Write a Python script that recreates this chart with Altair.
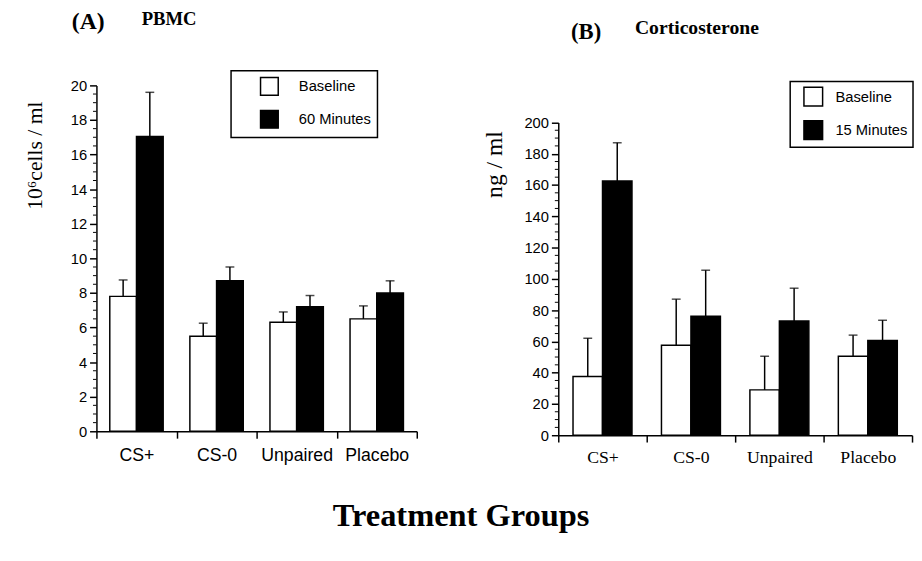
import altair as alt
import pandas as pd

SANS = "Liberation Sans"
SERIF = "Liberation Serif"

groups = ["CS+", "CS-0", "Unpaired", "Placebo"]

# Panel A: PBMC (10^6 cells / ml)
pbmc_series = ["Baseline", "60 Minutes"]
pbmc_baseline = [7.8, 5.5, 6.3, 6.5]
pbmc_baseline_top = [8.75, 6.25, 6.9, 7.25]
pbmc_60min = [17.05, 8.7, 7.2, 8.0]
pbmc_60min_top = [19.6, 9.5, 7.85, 8.7]
pbmc_ticks = [0, 2, 4, 6, 8, 10, 12, 14, 16, 18, 20]
pbmc_minor = [0.5, 1, 1.5, 2.5, 3, 3.5, 4.5, 5, 5.5, 6.5, 7, 7.5, 8.5, 9, 9.5,
              10.5, 11, 11.5, 12.5, 13, 13.5, 14.5, 15, 15.5, 16.5, 17, 17.5,
              18.5, 19, 19.5]

# Panel B: Corticosterone (ng / ml)
cort_series = ["Baseline", "15 Minutes"]
cort_baseline = [37.5, 57.5, 29.0, 50.5]
cort_baseline_top = [62.0, 87.0, 50.5, 64.0]
cort_15min = [162.5, 76.0, 73.0, 60.5]
cort_15min_top = [187.0, 105.5, 94.0, 73.5]
cort_ticks = [0, 20, 40, 60, 80, 100, 120, 140, 160, 180, 200]
cort_minor = [5, 10, 15, 25, 30, 35, 45, 50, 55, 65, 70, 75, 85, 90, 95,
              105, 110, 115, 125, 130, 135, 145, 150, 155, 165, 170, 175,
              185, 190, 195]


def panel(series, v0, t0, v1, t1, width, height, y_domain, y_range, ticks,
          minor, y_title, title_size, title_y, title_pad, x_font, x_pad,
          heads, legend):
    df = pd.DataFrame({
        "group": groups * 2,
        "series": [series[0]] * 4 + [series[1]] * 4,
        "value": v0 + v1,
        "top": t0 + t1,
    })
    yscale = alt.Scale(domain=y_domain, range=y_range, nice=False)
    yaxis = alt.Axis(values=ticks, title=y_title, titleFont=SERIF,
                     titleFontSize=title_size, titleFontWeight="normal",
                     titleColor="black", titleY=title_y,
                     titlePadding=title_pad, labelFont=SANS,
                     labelFontSize=15, labelColor="black", labelPadding=3,
                     tickSize=7, tickWidth=1.5, tickColor="black",
                     domainColor="black", domainWidth=1.5, grid=False)
    xaxis = alt.Axis(title=None, labelAngle=0, labelFont=x_font,
                     labelFontSize=18, labelColor="black",
                     labelPadding=x_pad, tickBand="extent", tickSize=7,
                     tickWidth=1.5, tickColor="black", domainColor="black",
                     domainWidth=1.5, grid=False)
    x = alt.X("group:N", sort=groups,
              scale=alt.Scale(paddingInner=0, paddingOuter=0), axis=xaxis)
    xo = alt.XOffset("series:N", sort=series,
                     scale=alt.Scale(paddingInner=0, paddingOuter=0.5))
    base = alt.Chart(df)
    bars = base.mark_bar(stroke="black", strokeWidth=1.5).encode(
        x=x, xOffset=xo,
        y=alt.Y("value:Q", scale=yscale, axis=yaxis, title=y_title),
        fill=alt.Fill("series:N", sort=series,
                      scale=alt.Scale(domain=series, range=["white", "black"]),
                      legend=alt.Legend(**legend)),
    )
    err = base.mark_rule(color="black", strokeWidth=1.5).encode(
        x=x, xOffset=xo,
        y=alt.Y("value:Q", scale=yscale, axis=yaxis, title=y_title),
        y2="top:Q",
    )
    caps = base.mark_tick(color="black", size=9, thickness=1.5).encode(
        x=x, xOffset=xo,
        y=alt.Y("top:Q", scale=yscale, axis=yaxis, title=y_title),
    )
    minors = alt.Chart(pd.DataFrame({"value": minor})).mark_rule(
        color="black", strokeWidth=1).encode(
        y=alt.Y("value:Q", scale=yscale, axis=yaxis, title=y_title),
        x=alt.value(-3.5), x2=alt.value(0),
    )
    texts = []
    for txt, fs, hx, hy in heads:
        texts.append(
            alt.Chart(pd.DataFrame({"t": [txt]})).mark_text(
                text=txt, align="left", baseline="alphabetic", font=SERIF,
                fontWeight="bold", fontSize=fs, color="black",
            ).encode(x=alt.value(hx), y=alt.value(hy))
        )
    return alt.layer(bars, err, caps, minors, *texts).properties(
        width=width, height=height)


legend_common = dict(orient="none", strokeColor="black", title=None,
                     symbolType="square", symbolStrokeColor="black",
                     symbolStrokeWidth=1.5, labelFont=SANS,
                     labelFontSize=15, labelColor="black")

chart_a = panel(
    pbmc_series, pbmc_baseline, pbmc_baseline_top, pbmc_60min, pbmc_60min_top,
    width=326, height=352, y_domain=[0, 20], y_range=[352, 0],
    ticks=pbmc_ticks, minor=pbmc_minor, y_title="10⁶cells / ml",
    title_size=22, title_y=71, title_pad=24, x_font=SANS, x_pad=9,
    heads=[("(A)", 24, -25, -57), ("PBMC", 19, 46, -61)],
    legend=dict(legendX=137, legendY=-15, padding=6, rowPadding=9.5,
                symbolSize=324, symbolOffset=23, labelOffset=20,
                **legend_common),
)

chart_b = panel(
    cort_series, cort_baseline, cort_baseline_top, cort_15min, cort_15min_top,
    width=360, height=356, y_domain=[0, 200], y_range=[356, 37.7],
    ticks=cort_ticks, minor=cort_minor, y_title="ng / ml",
    title_size=24, title_y=80, title_pad=18, x_font=SERIF, x_pad=7,
    heads=[("(B)", 23, 13, -47), ("Corticosterone", 20, 78, -52)],
    legend=dict(legendX=236, legendY=-4, padding=5, rowPadding=9,
                symbolSize=361, symbolOffset=8, labelOffset=12,
                **legend_common),
)

chart = alt.hconcat(chart_a, chart_b, spacing=65).resolve_scale(
    fill="independent", x="independent", y="independent",
    xOffset="independent",
).resolve_legend(fill="independent").properties(
    padding={"left": 16, "top": -2, "right": 0, "bottom": 10},
    title=alt.TitleParams("Treatment Groups", orient="bottom", anchor="middle",
                          font=SERIF, fontSize=33, fontWeight="bold",
                          color="black", offset=34, dx=-8),
).configure_view(stroke=None).configure_legend(strokeWidth=1.5)

chart.save("out.html", embed_options={"renderer": "svg", "actions": False})
